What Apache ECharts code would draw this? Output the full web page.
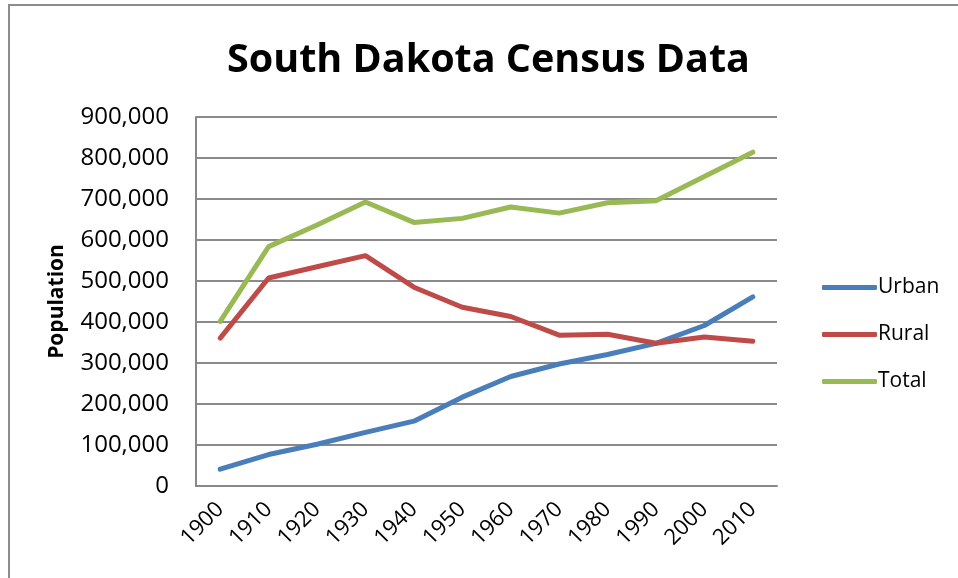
<!DOCTYPE html>
<html>
<head>
<meta charset="utf-8">
<title>South Dakota Census Data</title>
<script src="https://cdn.jsdelivr.net/npm/echarts@6/dist/echarts.min.js"></script>
<style>
    html, body { margin: 0; padding: 0; background: #fff; }
    #chart { width: 958px; height: 578px; }
</style>
</head>
<body>
<div id="chart"></div>
<script>
    // census years and series values
    var years = ['1900', '1910', '1920', '1930', '1940', '1950', '1960', '1970', '1980', '1990', '2000', '2010'];
    var urban = [40936, 76673, 101872, 130907, 158087, 216710, 267180, 297529, 320777, 347992, 391427, 461399];
    var rural = [360634, 507215, 534675, 561942, 484874, 436030, 413334, 367978, 369991, 348012, 363417, 352781];
    var total = [401570, 583888, 636547, 692849, 642961, 652740, 680514, 665507, 690768, 696004, 754844, 814180];
    var seriesNames = ['Urban', 'Rural', 'Total'];
    var colors = ['#4a7ebb', '#be4b48', '#98b954'];

    var font = '"Open Sans", sans-serif';

    var chart = echarts.init(document.getElementById('chart'));
    var option = {
        backgroundColor: '#fff',
        color: colors,
        title: {
            text: 'South Dakota Census Data',
            left: 222,
            top: 36,
            textStyle: {
                fontFamily: font,
                fontSize: 39.5,
                fontWeight: 'bold',
                color: '#000'
            }
        },
        legend: {
            orient: 'vertical',
            left: 817,
            top: 272,
            itemWidth: 55,
            itemHeight: 5,
            itemGap: 26,
            icon: 'roundRect',
            data: seriesNames,
            textStyle: {
                fontFamily: font,
                fontSize: 21,
                color: '#000',
                padding: [0, 0, 0, -4]
            }
        },
        grid: {
            left: 196,
            top: 117,
            width: 581,
            height: 369,
            containLabel: false
        },
        xAxis: {
            type: 'category',
            data: years,
            boundaryGap: true,
            axisLine: { lineStyle: { color: '#888', width: 2 } },
            axisTick: { show: false },
            axisLabel: {
                rotate: 45,
                margin: 20,
                fontFamily: font,
                fontSize: 22,
                color: '#000'
            }
        },
        yAxis: {
            type: 'value',
            min: 0,
            max: 900000,
            interval: 100000,
            name: 'Population',
            nameLocation: 'middle',
            nameGap: 128,
            nameTextStyle: {
                fontFamily: font,
                fontSize: 21,
                fontWeight: 'bold',
                color: '#000'
            },
            axisLine: { show: true, lineStyle: { color: '#888', width: 2 } },
            axisTick: { show: false },
            splitLine: { lineStyle: { color: '#8a8a8a', width: 2 } },
            axisLabel: {
                margin: 27,
                fontFamily: font,
                fontSize: 24,
                color: '#000',
                formatter: function (v) { return v.toLocaleString('en-US'); }
            }
        },
        series: [
            { name: seriesNames[0], type: 'line', data: urban, symbol: 'none', lineStyle: { width: 5, cap: 'round' } },
            { name: seriesNames[1], type: 'line', data: rural, symbol: 'none', lineStyle: { width: 5, cap: 'round' } },
            { name: seriesNames[2], type: 'line', data: total, symbol: 'none', lineStyle: { width: 5, cap: 'round' } }
        ],
        graphic: [
            {
                type: 'rect',
                shape: { x: 9, y: 5, width: 960, height: 600 },
                style: { fill: 'none', stroke: '#8c8c8c', lineWidth: 2 },
                silent: true
            }
        ]
    };
    chart.setOption(option);
</script>
</body>
</html>
